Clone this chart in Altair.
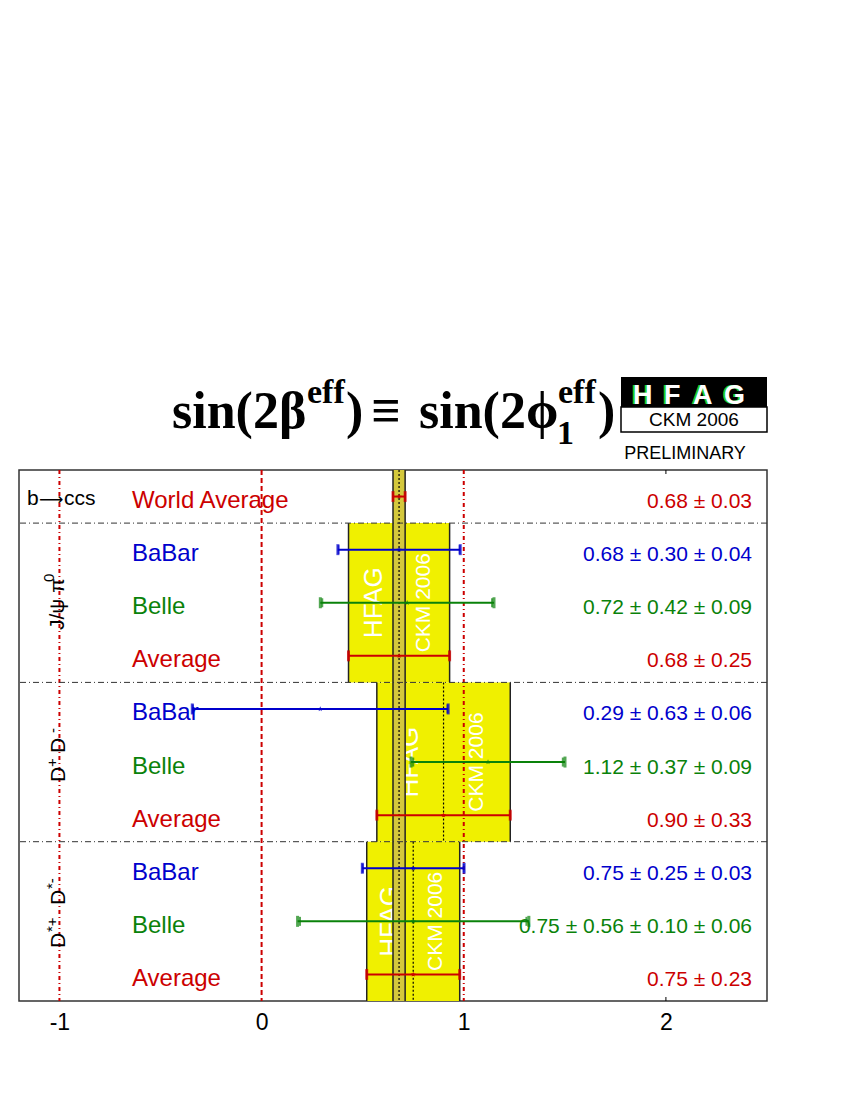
import altair as alt
import pandas as pd
import numpy as np

# ---------------- data ----------------
row_labels = ["World Average", "BaBar", "Belle", "Average",
              "BaBar", "Belle", "Average",
              "BaBar", "Belle", "Average"]
row_kind = ["avg", "babar", "belle", "avg", "babar", "belle", "avg", "babar", "belle", "avg"]
values = [0.68, 0.68, 0.72, 0.68, 0.29, 1.12, 0.90, 0.75, 0.75, 0.75]
stat_err = [0.03, 0.30, 0.42, 0.25, 0.63, 0.37, 0.33, 0.25, 0.56, 0.23]
syst_err = [0.00, 0.04, 0.09, 0.00, 0.06, 0.09, 0.00, 0.03, 0.10, 0.00]
syst2_err = [0.00, 0.00, 0.00, 0.00, 0.00, 0.00, 0.00, 0.00, 0.06, 0.00]
value_text = ["0.68 ± 0.03", "0.68 ± 0.30 ± 0.04", "0.72 ± 0.42 ± 0.09", "0.68 ± 0.25",
              "0.29 ± 0.63 ± 0.06", "1.12 ± 0.37 ± 0.09", "0.90 ± 0.33",
              "0.75 ± 0.25 ± 0.03", "0.75 ± 0.56 ± 0.10 ± 0.06", "0.75 ± 0.23"]

group_avg = [0.68, 0.90, 0.75]
group_err = [0.25, 0.33, 0.23]
group_first_row = [1, 4, 7]
group_nrows = [3, 3, 3]

world_avg = 0.68
world_err = 0.03
ref_lines = [-1, 0, 1]
x_ticks = [-1, 0, 1, 2]
separators = [1, 4, 7]

kind_domain = ["avg", "babar", "belle"]
kind_colors = ["#cc0000", "#0000cc", "#0a820a"]

# ---------------- tables ----------------
v = np.array(values)
st = np.array(stat_err)
tot = np.sqrt(st ** 2 + np.array(syst_err) ** 2 + np.array(syst2_err) ** 2)
rows = pd.DataFrame({
    "row": np.arange(len(values)) + 0.5,
    "label": row_labels,
    "kind": row_kind,
    "val": v,
    "lo": v - tot,
    "hi": v + tot,
    "slo": v - st,
    "shi": v + st,
    "txt": value_text,
})
caps = pd.concat([
    rows[["row", "kind"]].assign(x=rows["lo"]),
    rows[["row", "kind"]].assign(x=rows["hi"]),
])
scaps = pd.concat([
    rows[["row", "kind"]].assign(x=rows["slo"]),
    rows[["row", "kind"]].assign(x=rows["shi"]),
])

ga = np.array(group_avg)
ge = np.array(group_err)
gf = np.array(group_first_row)
groups = pd.DataFrame({
    "avg": ga,
    "lo": ga - ge,
    "hi": ga + ge,
    "y0": gf,
    "y1": gf + np.array(group_nrows),
    "ymid": gf + np.array(group_nrows) / 2.0,
    "hfag_x": ga - ge / 2.0,
    "ckm_x": ga + ge / 2.0,
})
gsides = pd.concat([
    groups[["y0", "y1"]].assign(x=groups["lo"]),
    groups[["y0", "y1"]].assign(x=groups["hi"]),
])
band = pd.DataFrame({"lo": [world_avg - world_err], "hi": [world_avg + world_err], "c": [world_avg]})
band_edges = pd.DataFrame({"x": [world_avg - world_err, world_avg + world_err]})
refs = pd.DataFrame({"x": ref_lines, "dash": ["dd", "d", "dd"]})
seps = pd.DataFrame({"y": separators})
tick2 = pd.DataFrame({"x": [x_ticks[-1]]})
one = pd.DataFrame({"a": [0]})

W, H = 748, 531
SANS = "Liberation Sans"
SERIF = "Liberation Serif"
STAR = ("M0,-1L0.22,-0.31L0.95,-0.31L0.36,0.12L0.59,0.81L0,0.38L-0.59,0.81"
        "L-0.36,0.12L-0.95,-0.31L-0.22,-0.31Z")

xscale = alt.Scale(domain=[-1.2, 2.5], nice=False, zero=False)
xaxis = alt.Axis(values=x_ticks, ticks=False, domain=False, grid=False, orient="bottom",
                 labelFontSize=23, labelFont=SANS, labelColor="black",
                 labelPadding=10, title=None, labelExpr="'' + datum.value")
yscale = alt.Scale(domain=[0, 10], reverse=True, nice=False, zero=False)
color = alt.Color("kind:N", scale=alt.Scale(domain=kind_domain, range=kind_colors), legend=None)


def X(f):
    return alt.X(f, type="quantitative", scale=xscale, axis=xaxis)


def Y(f):
    return alt.Y(f, type="quantitative", scale=yscale, axis=None)


layers = []

# yellow average boxes
layers.append(alt.Chart(groups).mark_rect(color="#f0f000").encode(
    x=X("lo"), x2="hi", y=Y("y0"), y2="y1"))
# HFAG / CKM 2006 watermarks
layers.append(alt.Chart(groups).mark_text(text="HFAG", angle=270, fontSize=26, font=SANS,
                                          color="white", align="center", baseline="middle").encode(
    x=X("hfag_x"), y=Y("ymid")))
layers.append(alt.Chart(groups).mark_text(text="CKM 2006", angle=270, fontSize=21, font=SANS,
                                          color="white", align="center", baseline="middle").encode(
    x=X("ckm_x"), y=Y("ymid")))
# box sides
layers.append(alt.Chart(gsides).mark_rule(color="#222", strokeWidth=1.5).encode(
    x=X("x"), y=Y("y0"), y2="y1"))
# dotted group averages
layers.append(alt.Chart(groups).mark_rule(color="black", strokeWidth=1.2, strokeDash=[2, 2]).encode(
    x=X("avg"), y=Y("y0"), y2="y1"))
# world average band
layers.append(alt.Chart(band).mark_rect(color="#d4c83c").encode(
    x=X("lo"), x2="hi", y=alt.value(0), y2=alt.value(H)))
layers.append(alt.Chart(band_edges).mark_rule(color="#222", strokeWidth=1.5).encode(x=X("x")))
layers.append(alt.Chart(band).mark_rule(color="black", strokeWidth=1.2, strokeDash=[2, 2]).encode(x=X("c")))
# red reference lines
layers.append(alt.Chart(refs[refs["dash"] == "d"]).mark_rule(
    color="#cc0000", strokeWidth=2, strokeDash=[5, 3]).encode(x=X("x")))
layers.append(alt.Chart(refs[refs["dash"] == "dd"]).mark_rule(
    color="#cc0000", strokeWidth=2, strokeDash=[4, 3, 1, 3]).encode(x=X("x")))
# small tick marks at 2
layers.append(alt.Chart(tick2).mark_rule(color="black", strokeWidth=1, strokeDash=[4, H - 8]).encode(x=X("x")))
# separators
layers.append(alt.Chart(seps).mark_rule(color="#333", strokeWidth=1, strokeDash=[6, 3, 1, 3]).encode(
    y=Y("y")))
# error bars
layers.append(alt.Chart(rows).mark_rule(strokeWidth=2).encode(
    x=X("lo"), x2="hi", y=Y("row"), color=color))
layers.append(alt.Chart(caps).mark_tick(orient="vertical", size=11, thickness=3).encode(
    x=X("x"), y=Y("row"), color=color))
layers.append(alt.Chart(scaps).mark_tick(orient="vertical", size=9, thickness=2).encode(
    x=X("x"), y=Y("row"), color=color))
layers.append(alt.Chart(rows).mark_point(shape=STAR, filled=True, size=30, opacity=1).encode(
    x=X("val"), y=Y("row"), color=color))
# row labels and values
layers.append(alt.Chart(rows).mark_text(fontSize=24, font=SANS, align="left", baseline="alphabetic",
                                        dy=11.5).encode(
    x=alt.value(113), y=Y("row"), text="label:N", color=color))
layers.append(alt.Chart(rows).mark_text(fontSize=21, font=SANS, align="right", baseline="alphabetic",
                                        dy=11.5).encode(
    x=alt.value(733), y=Y("row"), text="txt:N", color=color))


def txt(text, x, y, size, font=SANS, weight="normal", col="black", align="left", angle=0):
    return alt.Chart(one).mark_text(text=text, fontSize=size, font=font, fontWeight=weight,
                                    color=col, align=align, angle=angle,
                                    baseline="alphabetic").encode(
        x=alt.value(x), y=alt.value(y))


# group labels
layers.append(txt("b", 8, 35, 21))
layers.append(txt("⟶", 20, 35, 17, font="DejaVu Sans"))
layers.append(txt("ccs", 45, 35, 21))
# J/psi pi0 (rotated, reading upward)
layers.append(txt("J/ψ π", 45, 160, 21, angle=270))
layers.append(txt("0", 35, 112, 15, angle=270))
# D+ D-
layers.append(txt("D", 46, 312, 21, angle=270))
layers.append(txt("+", 38, 297, 15, angle=270))
layers.append(txt("D", 46, 283, 21, angle=270))
layers.append(txt("-", 39, 263, 15, angle=270))
# D*+ D*-
layers.append(txt("D", 46, 478, 21, angle=270))
layers.append(txt("*+", 38, 462, 15, angle=270))
layers.append(txt("D", 46, 435, 21, angle=270))
layers.append(txt("*-", 38, 419, 15, angle=270))

# title
TY = -42
layers.append(txt("sin(2β", 153, TY, 52, font=SERIF, weight="bold"))
layers.append(txt("eff", 288, TY - 25, 34, font=SERIF, weight="bold"))
layers.append(txt(")", 327, TY, 52, font=SERIF, weight="bold"))
layers.append(txt("≡", 352, TY, 52, font=SERIF, weight="bold"))
layers.append(txt("sin(2ϕ", 400, TY, 52, font=SERIF, weight="bold"))
layers.append(txt("1", 538, TY + 16, 34, font=SERIF, weight="bold"))
layers.append(txt("eff", 539, TY - 25, 34, font=SERIF, weight="bold"))
layers.append(txt(")", 579, TY, 52, font=SERIF, weight="bold"))

# HFAG logo
layers.append(alt.Chart(one).mark_rect(color="black").encode(
    x=alt.value(602), x2=alt.value(748), y=alt.value(-93), y2=alt.value(-63)))
layers.append(alt.Chart(one).mark_rect(color="white", stroke="black", strokeWidth=1.5).encode(
    x=alt.value(602), x2=alt.value(748), y=alt.value(-63), y2=alt.value(-38)))
for letter, lx in zip("HFAG", [612, 643, 672, 703]):
    layers.append(txt(letter, lx, -66, 27, weight="bold", col="#22cc22"))
    layers.append(txt(letter, lx + 2, -66, 27, weight="bold", col="white"))
layers.append(txt("CKM 2006", 675, -44, 19, align="center"))
layers.append(txt("PRELIMINARY", 666, -11, 18, align="center"))

chart = alt.layer(*layers).properties(
    width=W, height=H,
    autosize=alt.AutoSizeParams(type="none"),
    padding={"left": 11, "top": 462, "right": 20, "bottom": 80},
).configure_view(stroke="#333", strokeWidth=1.5)

chart.save("out.html", embed_options={"renderer": "svg", "actions": False})
